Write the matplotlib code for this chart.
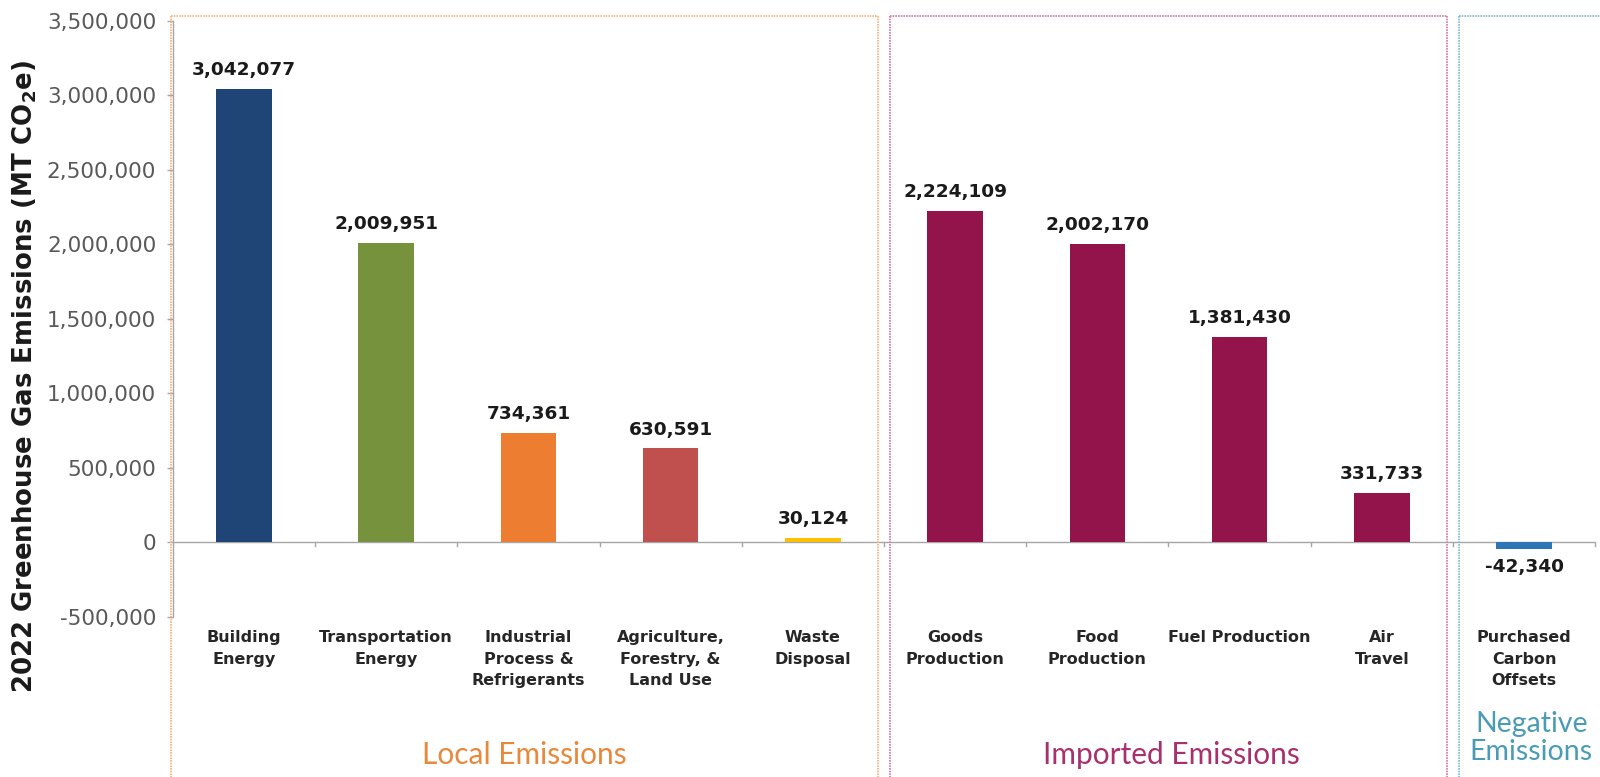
import matplotlib
matplotlib.use("Agg")
import matplotlib.pyplot as plt
from matplotlib.lines import Line2D
from matplotlib.ticker import FuncFormatter, MultipleLocator
import matplotlib.transforms as mtransforms

plt.rcParams['font.family'] = ['Lato', 'DejaVu Sans']

categories = [
    "Building\nEnergy", "Transportation\nEnergy", "Industrial\nProcess &\nRefrigerants",
    "Agriculture,\nForestry, &\nLand Use", "Waste\nDisposal", "Goods\nProduction",
    "Food\nProduction", "Fuel Production", "Air\nTravel", "Purchased\nCarbon\nOffsets",
]
emissions = [3042077, 2009951, 734361, 630591, 30124, 2224109, 2002170, 1381430, 331733, -42340]
bar_colors = ["#1F4576", "#76923C", "#ED7D31", "#C0504D", "#FFC000",
              "#93144B", "#93144B", "#93144B", "#93144B", "#2E75B6"]

# groups: (label, first index, last index, frame colour, text colour)
groups = [
    ("Local Emissions", 0, 4, "#F5B27A", "#E8883A"),
    ("Imported Emissions", 5, 8, "#CC79A7", "#A8306C"),
    ("Negative\nEmissions", 9, 9, "#7FB8CC", "#4A9CB5"),
]

WIDE = ['DejaVu Sans']

fig = plt.figure(figsize=(16, 7.77), dpi=100)
ax = fig.add_axes([0.108, 0.206, 0.889, 0.767])

x = list(range(len(categories)))
ax.bar(x, emissions, width=0.39, color=bar_colors, zorder=3)

ax.set_xlim(-0.5, len(categories) - 0.5)
ax.set_ylim(-500000, 3500000)
ax.yaxis.set_major_locator(MultipleLocator(500000))
ax.yaxis.set_major_formatter(FuncFormatter(lambda v, p: f"{int(v):,}"))
ax.tick_params(axis='y', labelsize=15.5, labelcolor="#595959", color="#A6A6A6",
               length=4, width=1, direction='out', pad=8)
for t in ax.get_yticklabels():
    t.set_family(WIDE)

for s in ("top", "right", "bottom"):
    ax.spines[s].set_visible(False)
ax.spines["left"].set_color("#A6A6A6")
ax.spines["left"].set_linewidth(1)

# zero line with boundary ticks
ax.axhline(0, color="#A6A6A6", lw=1, zorder=2)
for b in range(1, len(categories) + 1):
    ax.plot([b - 0.5, b - 0.5], [0, -22000], color="#A6A6A6", lw=1, clip_on=False, zorder=2)
ax.set_xticks([])

# value labels
for xi, v in zip(x, emissions):
    if v >= 0:
        ax.annotate(f"{v:,}", (xi, v), xytext=(0, 7), textcoords="offset points",
                    ha="center", va="bottom", fontsize=13.3, fontweight="bold",
                    color="#1A1A1A", family=WIDE)
    else:
        ax.annotate(f"{v:,}", (xi, v), xytext=(0, -7), textcoords="offset points",
                    ha="center", va="top", fontsize=13.3, fontweight="bold",
                    color="#1A1A1A", family=WIDE)

# category labels under the axis
trans_cat = mtransforms.blended_transform_factory(ax.transData, ax.transAxes)
for xi, lab in zip(x, categories):
    ax.text(xi, -0.022, lab, transform=trans_cat, ha="center", va="top",
            fontsize=11.5, fontweight="bold", color="#262626", linespacing=1.55,
            family=WIDE)

ax.set_ylabel("2022 Greenhouse Gas Emissions (MT CO$_\\mathbf{2}$e)", fontsize=18.7,
              fontweight="bold", color="#1A1A1A", family=WIDE)
ax.yaxis.label.set_va("center")
ax.yaxis.set_label_coords(-0.104, 0.404)

# group frames, spanning from near the top of the figure down past the bottom edge
trans_grp = mtransforms.blended_transform_factory(ax.transData, fig.transFigure)
top_y = 1 - 16 / 777
pad = 0.04
label_shift = {"Local Emissions": -0.03, "Imported Emissions": 0.02, "Negative\nEmissions": 0.05}
for label, i0, i1, frame_c, text_c in groups:
    left = i0 - 0.5 + (pad if i0 > 0 else -0.015)
    right = i1 + 0.5 - pad if i1 < len(categories) - 1 else i1 + 0.6
    for xs, ys in (([left, left], [top_y, -0.01]),
                   ([right, right], [top_y, -0.01]),
                   ([left, right], [top_y, top_y])):
        fig.add_artist(Line2D(xs, ys, transform=trans_grp, color=frame_c, lw=1.2,
                              linestyle=(0, (1, 0.6)), clip_on=False))
    cx = (i0 + i1) / 2 + label_shift[label]
    if "\n" in label:
        ax.text(cx, 1 - 738 / 777, label, transform=trans_grp, ha="center", va="center",
                fontsize=20.5, color=text_c, linespacing=1.12)
    else:
        ax.text(cx, 1 - 755 / 777, label, transform=trans_grp, ha="center", va="center",
                fontsize=21.5, color=text_c)

fig.savefig("out.png", dpi=100, facecolor="white")
